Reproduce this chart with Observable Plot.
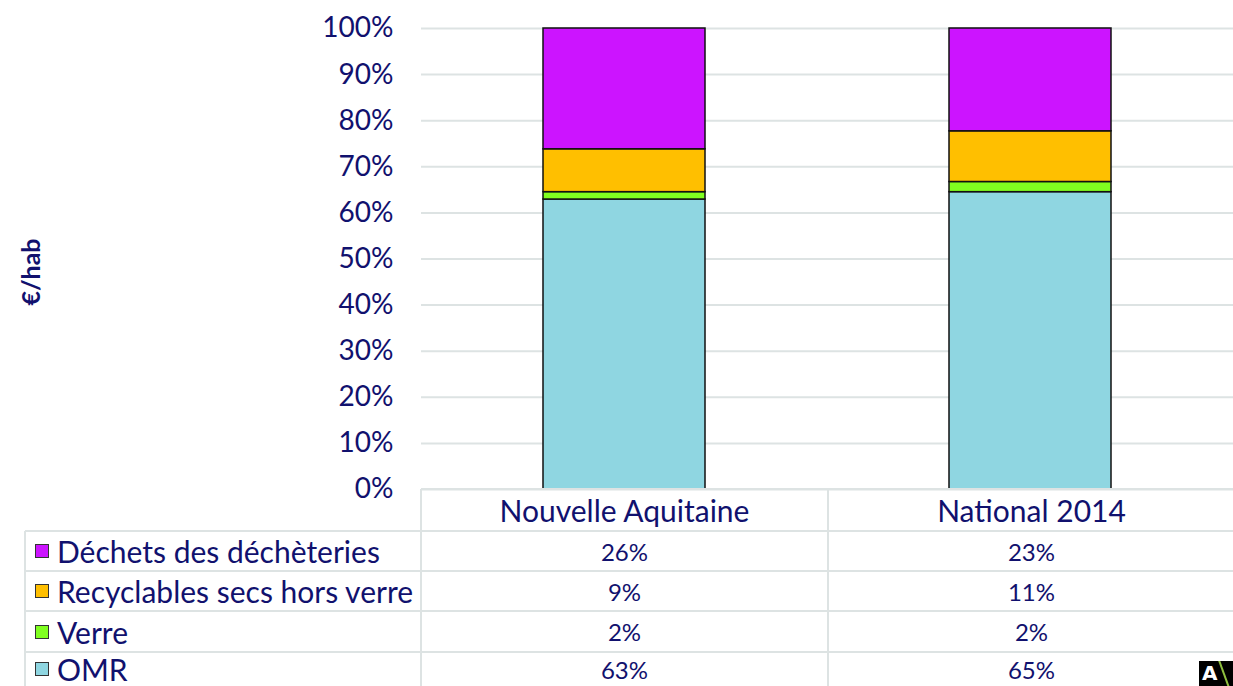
<!DOCTYPE html>
<html><head><meta charset="utf-8">
<script src="https://cdn.jsdelivr.net/npm/d3@7"></script>
<script src="https://cdn.jsdelivr.net/npm/@observablehq/plot@0.6"></script>
<style>
body{margin:0;background:#fff;font-family:Lato,sans-serif;color:#11116e;}
#wrap{position:relative;width:1233px;height:686px;overflow:hidden;background:#fff;}
#chart{position:absolute;left:0;top:0;}
.cell{position:absolute;box-sizing:border-box;display:flex;align-items:center;white-space:nowrap;}
.num{justify-content:center;font-size:24px;}
.hdr{justify-content:center;font-size:30px;}
.lab{font-size:30px;padding-left:10px;}
.sw{display:inline-block;width:14px;height:14px;box-sizing:border-box;border:1.5px solid #333;margin-right:8px;}
.ln{position:absolute;background:#dde3e3;}
#ylab{position:absolute;left:30px;top:272px;transform:translate(-50%,-50%) rotate(-90deg);font-weight:bold;font-size:25px;white-space:nowrap;}
#logo{position:absolute;left:1199px;top:661px;width:34px;height:25px;background:#000;color:#fff;font:bold 20px "DejaVu Sans",sans-serif;padding-left:3px;box-sizing:border-box;line-height:25px;overflow:hidden;}
#logo i{position:absolute;left:24px;top:-4px;width:2px;height:34px;background:#8fbf3f;transform:rotate(-20deg);}
</style>
</head><body>
<div id="wrap">
<div id="chart"></div>
<div id="ylab">€/hab</div>
</div>
<script>
// Data
const categories = ["Nouvelle Aquitaine", "National 2014"];
const series = ["OMR", "Verre", "Recyclables secs hors verre", "Déchets des déchèteries"];
const colors = ["#8fd6e1", "#80ff20", "#ffbf00", "#cc14ff"];
const valuesNA = [0.629, 0.016, 0.093, 0.262];
const valuesNat = [0.645, 0.022, 0.110, 0.223];
const tableNA = [0.63, 0.02, 0.09, 0.26];
const tableNat = [0.65, 0.02, 0.11, 0.23];
const yTicks = [0, 0.1, 0.2, 0.3, 0.4, 0.5, 0.6, 0.7, 0.8, 0.9, 1];

const data = [];
categories.forEach((c, ci) => {
  const vals = ci === 0 ? valuesNA : valuesNat;
  series.forEach((s, si) => data.push({cat: c, serie: s, value: vals[si]}));
});

const W = 1233, plotTop = 28, plotBottom = 489, left = 421;
const chart = Plot.plot({
  width: W, height: plotBottom,
  marginLeft: left, marginRight: 0, marginTop: plotTop, marginBottom: 0,
  style: {fontFamily: "Lato, sans-serif", fontSize: "28px", color: "#11116e", background: "transparent", overflow: "visible"},
  x: {type: "band", domain: categories, paddingInner: 0.6, paddingOuter: 0.3, axis: null},
  y: {domain: [0, 1], axis: null},
  color: {domain: series, range: colors},
  marks: [
    Plot.gridY(yTicks, {stroke: "#dde3e3", strokeOpacity: 1, strokeWidth: 2}),
    Plot.axisY(yTicks, {tickSize: 0, tickPadding: 28, tickFormat: d3.format(".0%"), label: null, fontSize: 28}),
    Plot.barY(data, Plot.stackY({x: "cat", y: "value", fill: "serie", stroke: "#111", strokeWidth: 1.5, order: null}))
  ]
});
document.getElementById("chart").appendChild(chart);

// Table below
const wrap = document.getElementById("wrap");
const colX = [25, 421, 828, 1235];
const rowY = [489, 531, 571, 611, 652, 686];
function el(cls, x, y, w, h, html) {
  const d = document.createElement("div");
  d.className = cls;
  Object.assign(d.style, {left: x + "px", top: y + "px", width: w + "px", height: h + "px"});
  if (html !== undefined) d.innerHTML = html;
  wrap.appendChild(d);
  return d;
}
const fmt = d3.format(".0%");
// header
categories.forEach((c, i) => el("cell hdr", colX[i + 1], rowY[0], colX[i + 2] - colX[i + 1], rowY[1] - rowY[0], c));
// rows (top series first)
const order = [3, 2, 1, 0];
order.forEach((si, r) => {
  const y0 = rowY[r + 1], h = rowY[r + 2] - y0;
  el("cell lab", colX[0], y0, colX[1] - colX[0], h, `<span class="sw" style="background:${colors[si]}"></span>${series[si]}`);
  el("cell num", colX[1], y0, colX[2] - colX[1], h, fmt(tableNA[si]));
  el("cell num", colX[2], y0, colX[3] - colX[2], h, fmt(tableNat[si]));
});
// grid lines
el("ln", colX[1], rowY[0] - 1, W - colX[1], 2);
for (let r = 1; r < 5; r++) el("ln", colX[0], rowY[r] - 1, W - colX[0], 2);
el("ln", colX[0] - 1, rowY[1], 2, 686 - rowY[1]);
el("ln", colX[1] - 1, rowY[0], 2, 686 - rowY[0]);
el("ln", colX[2] - 1, rowY[0], 2, 686 - rowY[0]);
const logo = document.createElement("div");
logo.id = "logo"; logo.innerHTML = "A<i></i>";
wrap.appendChild(logo);
</script>
</body></html>
